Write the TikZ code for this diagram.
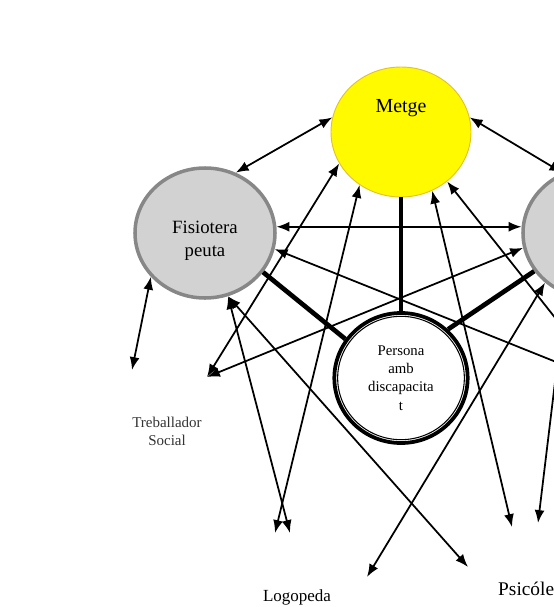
\documentclass[tikz,border=0pt]{standalone}
\usepackage{fontspec}
\setmainfont{Liberation Serif}
\usetikzlibrary{arrows.meta,shapes.geometric}
\definecolor{groc}{RGB}{255,250,0}
\definecolor{grocfosc}{RGB}{225,195,40}
\definecolor{grisclar}{RGB}{210,210,210}
\definecolor{grisfosc}{RGB}{135,135,135}
\tikzset{>={Latex[length=11pt,width=8.5pt]}}

\begin{document}
\begin{tikzpicture}[x=0.03cm, y=-0.03cm,
	metgebox/.style={ellipse, draw=grocfosc, line width=0.8pt, fill=groc, inner sep=0pt, minimum width=4.2cm, minimum height=3.9cm},
	prof/.style={ellipse, draw=grisfosc, line width=3pt, fill=grisclar, inner sep=0pt, minimum width=4.2cm, minimum height=3.9cm, align=center, font=\fontsize{16}{19.5}\selectfont},
	persona/.style={ellipse, draw, line width=3.2pt, fill=white, inner sep=0pt, minimum width=4.0cm, minimum height=3.9cm, align=center, font=\fontsize{12.6}{15.6}\selectfont},
	rel/.style={<->, line width=1.5pt},
	lligam/.style={line width=4pt},
	etiq/.style={align=center, inner sep=0pt}]
	\clip (0,0) rectangle (554,607);

	\node[metgebox, label={[yshift=0.72cm, font=\fontsize{17}{20}\selectfont]center:Metge}] (metge) at (401,132) {};
	\node[prof, label={[yshift=-0.24cm, align=center, font=\fontsize{16}{19.5}\selectfont]center:Fisiotera\\peuta}] (fisio) at (205,233) {};
	\node[prof] (dreta) at (593,233) {};
	\node[persona] (persona) at (401,378) {Persona\\amb\\discapacita\\t};
	\draw[line width=0.9pt] (persona.center) ellipse [x radius=1.9cm, y radius=1.85cm];

	\node[etiq, text=black!80, font=\fontsize{12.8}{15.5}\selectfont] (treb) at (167,431) {Treballador\\Social};
	\node[etiq, font=\fontsize{14.5}{17}\selectfont] (logo) at (297,597) {Logopeda};
	\node[etiq, anchor=west, font=\fontsize{16.5}{19}\selectfont] (psico) at (498,589) {Psicóle};

	% puntes de les fletxes
	\coordinate (ts1) at (132,370);
	\coordinate (ts2) at (207,377);
	\coordinate (lg1) at (275,533);
	\coordinate (lg2) at (290,533);
	\coordinate (lg3) at (367,577);
	\coordinate (ps0) at (468,567);
	\coordinate (ps1) at (512,527);
	\coordinate (ps2) at (538,523);
	\coordinate (td) at (606,382);

	\draw[lligam] (metge) -- (persona);
	\draw[lligam] (fisio.326) -- (persona.145);
	\draw[lligam] (dreta.213) -- (persona.46);

	\draw[rel] (metge.168) -- (fisio.63);
	\draw[rel] (metge.12) -- (dreta.117);
	\draw[rel] (fisio.5) -- (dreta.175);
	\draw[rel] (fisio.219) -- (ts1);
	\draw[rel] (metge.207) -- (ts2);
	\draw[rel] (dreta.192) -- (ts2);
	\draw[rel] (metge.232) -- (lg1);
	\draw[rel] (fisio.290) -- (lg2);
	\draw[rel] (fisio.290) -- (ps0);
	\draw[rel] (dreta.226) -- (lg3);
	\draw[rel] (metge.298) -- (ps1);
	\draw[rel] (metge.313) -- (td);
	\draw[rel] (fisio.347) -- (td);
	\draw[rel] (dreta.246) -- (ps2);
\end{tikzpicture}
\end{document}
